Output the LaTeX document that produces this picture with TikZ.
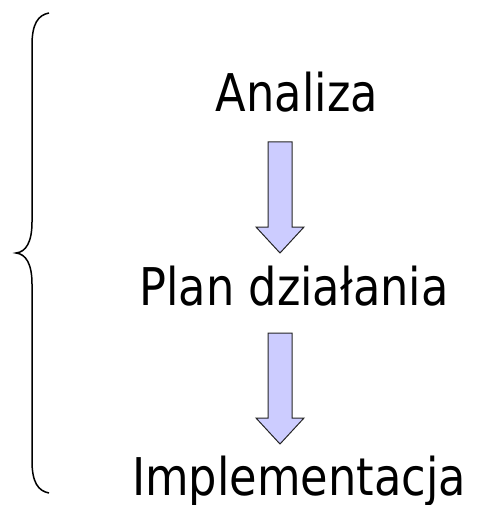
\documentclass[tikz,border=0pt]{standalone}
\usepackage{fontspec}
\usetikzlibrary{calc}
\setmainfont{DejaVu Sans}[FakeStretch=0.86]
\begin{document}
\begin{tikzpicture}[x=1pt,y=-1pt,
  stage/.style={anchor=base,inner sep=0pt,font=\fontsize{52}{60}\selectfont},
  blockarrow/.style={draw=black!85,line width=1pt,fill=blue!20,line join=miter},
  brace/.style={draw=black,line width=1.5pt}]
\useasboundingbox (0,0) rectangle (476,505);

% stages
\node[stage] (a) at (297,112) {Analiza};
\node[stage] (p) at (294,305) {Plan działania};
\node[stage] (i) at (299,495) {Implementacja};

% block arrows between the stages
\foreach \top/\name in {142/a1,333/a2}{
  \coordinate (\name) at (280,\top);
  \draw[blockarrow] ($(\name)+(-12,0)$) -- ++(24,0) -- ++(0,85) -- ++(12,0)
    -- ($(\name)+(0,111)$) -- ($(\name)+(-24,85)$) -- ++(12,0) -- cycle;
}

% curly brace on the left
\draw[brace] (49,13) .. controls (38,15) and (32,24) .. (32,45)
  -- (32,222) .. controls (32,242) and (26,252) .. (16,253)
  .. controls (26,254) and (32,264) .. (32,284)
  -- (32,461) .. controls (32,482) and (38,491) .. (49,493);
\end{tikzpicture}
\end{document}
